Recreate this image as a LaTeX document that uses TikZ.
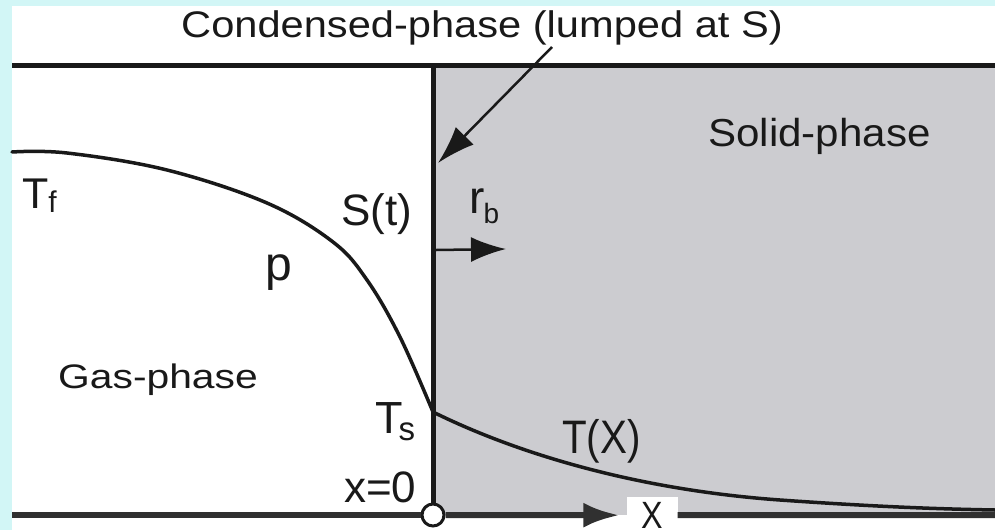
\documentclass[tikz,border=0pt]{standalone}
\usepackage{fontspec}
\setmainfont{Liberation Sans}
\usepackage{graphicx}
\usetikzlibrary{arrows.meta}
\definecolor{bgcyan}{RGB}{210,246,246}
\definecolor{solidgray}{RGB}{204,204,208}
\definecolor{ink}{RGB}{25,25,25}
\newcommand{\fs}[2]{{\fontsize{#1}{#1}\selectfont #2}}
\newcommand{\sxt}[2]{\scalebox{#1}[1]{#2}}
\begin{document}
\begin{tikzpicture}[x=1pt,y=-1pt,
  lbl/.style={inner sep=0pt, anchor=base west, text=ink},
  wall/.style={draw=ink, line width=5pt},
  axisline/.style={draw=ink!90, line width=6pt},
  prof/.style={draw=ink, line width=3.5pt, line cap=round},
  pointer/.style={draw=ink, line width=2.5pt, -{Latex[length=38pt,width=25pt]}},
]
\useasboundingbox (0,0) rectangle (995,530);
\clip (0,0) rectangle (995,530);
% background
\fill[bgcyan] (0,0) rectangle (995,530);
\fill[white] (12,6) rectangle (995,530);
\fill[solidgray] (433,65) rectangle (995,515);
% frame
\coordinate (TL) at (12,65);
\coordinate (TR) at (995,65);
\coordinate (Stop) at (433,65);
\coordinate (AL) at (12,515);
\coordinate (AR) at (995,515);
\node[circle, draw=ink, fill=white, line width=3pt, minimum size=22pt, inner sep=0pt] (O) at (433,515) {};
\node[fill=white, inner sep=0pt, minimum width=51pt, minimum height=36pt, anchor=north, text=ink] (XL) at (652,497) {\fs{38}{\sxt{0.85}{X}}};
\draw[wall] (TL) -- (TR);
\draw[wall] (Stop) -- (O.north);
\draw[axisline] (AL) -- (O.west);
\draw[axisline, -{Latex[length=36pt,width=25pt]}, shorten >=7pt] (O.east) -- (XL.west);
\draw[axisline] (XL.east) -- (AR);
% temperature profile
\draw[prof] plot[smooth, tension=0.6] coordinates {(12,152) (67,153) (167,170) (267,203) (333,242) (367,280) (400,337) (433,412)};
\draw[prof] (433,412) .. controls (520,455) and (640,490) .. (780,500) .. controls (880,507) and (940,509) .. (995,510);
% labels
\node[lbl] (title) at (181,37) {\fs{37}{\sxt{1.125}{Condensed-phase (lumped at S)}}};
\node[lbl] (solid) at (708,146) {\fs{39}{\sxt{1.08}{Solid-phase}}};
\node[lbl] (gas) at (58,388) {\fs{34}{\sxt{1.2}{Gas-phase}}};
\node[lbl] (Tf) at (22,208) {\fs{43}{T}\raisebox{-4pt}{\fs{30}{f}}};
\node[lbl] (St) at (341,225) {\fs{44}{S(t)}};
\node[lbl] (rb) at (469,213) {\fs{46}{r}\kern-1pt\raisebox{-10pt}{\fs{28}{b}}};
\node[lbl] (p) at (265,280) {\fs{48}{p}};
\node[lbl] (Ts) at (375,433) {\fs{45}{T}\kern-4pt\raisebox{-7pt}{\fs{33}{s}}};
\node[lbl] (TX) at (562,453) {\fs{47}{\sxt{0.86}{T(X)}}};
\node[lbl] (x0) at (344,502) {\fs{44}{x=0}};
% pointers
\coordinate (cA) at (552,47);
\coordinate (cB) at (438,163);
\draw[pointer] (cA) -- (cB);
\coordinate (rA) at (436,250);
\coordinate (rB) at (506,249);
\draw[draw=ink, line width=2.5pt, -{Latex[length=35pt,width=25pt]}] (rA) -- (rB);
\end{tikzpicture}
\end{document}
